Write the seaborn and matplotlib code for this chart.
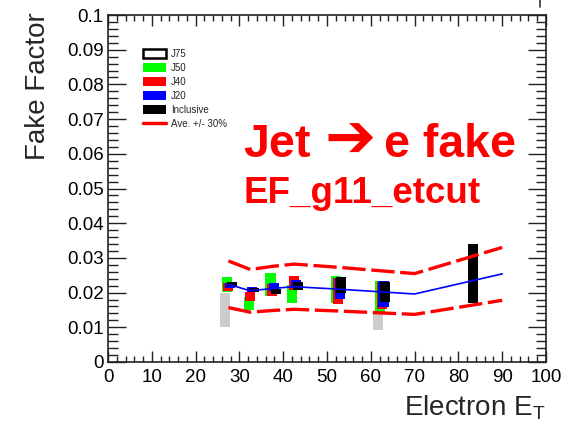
import numpy as np
import pandas as pd
import matplotlib
matplotlib.use("Agg")
import matplotlib.pyplot as plt
import seaborn as sns
from matplotlib.patches import Patch
from matplotlib.lines import Line2D
from matplotlib.ticker import MultipleLocator, FixedLocator, FixedFormatter

nan = np.nan

# Electron E_T bin centres and fake-factor bands (low / high) per trigger stream
bin_et = [27.5, 32.5, 37.5, 42.5, 52.5, 62.5, 82.5]
j75_lo = [0.0102, nan, nan, nan, nan, 0.0091, nan]
j75_hi = [0.0198, nan, nan, nan, nan, 0.0140, nan]
j50_lo = [0.0203, 0.0150, 0.0190, 0.0171, 0.0169, 0.0142, nan]
j50_hi = [0.0246, 0.0188, 0.0257, 0.0222, 0.0248, 0.0234, nan]
j40_lo = [0.0205, 0.0177, 0.0190, 0.0207, 0.0167, 0.0152, nan]
j40_hi = [0.0229, 0.0203, 0.0225, 0.0248, 0.0241, 0.0231, nan]
j20_lo = [0.0214, 0.0203, 0.0205, 0.0212, 0.0181, 0.0159, nan]
j20_hi = [0.0228, 0.0217, 0.0227, 0.0236, 0.0241, 0.0234, nan]
incl_lo = [0.0219, 0.0203, 0.0195, 0.0207, 0.0200, 0.0173, 0.0169]
incl_hi = [0.0231, 0.0214, 0.0210, 0.0231, 0.0244, 0.0231, 0.0340]

# Average fake factor used for the +/- 30% band
ave_et = [27.5, 32.5, 37.5, 42.5, 52.5, 62.5, 70.0, 90.0]
ave_ff = [0.0224, 0.0205, 0.0212, 0.0217, 0.0210, 0.0202, 0.0196, 0.0254]

x_ticks = [0, 10, 20, 30, 40, 50, 60, 70, 80, 90, 100]
x_tick_labels = ["0", "10", "20", "30", "40", "50", "60", "70", "80", "90", "100"]
y_ticks = [0, 0.01, 0.02, 0.03, 0.04, 0.05, 0.06, 0.07, 0.08, 0.09, 0.1]
y_tick_labels = ["0", "0.01", "0.02", "0.03", "0.04", "0.05", "0.06", "0.07",
                 "0.08", "0.09", "0.1"]

sns.set_theme(style="ticks")
plt.rcParams["font.family"] = ["Liberation Sans", "DejaVu Sans"]
plt.rcParams["mathtext.fontset"] = "custom"
plt.rcParams["mathtext.rm"] = "Liberation Sans"
plt.rcParams["mathtext.it"] = "Liberation Sans"

fig = plt.figure(figsize=(5.64, 4.22), dpi=100)
ax = fig.add_axes([108 / 564, 1 - 362 / 422, 438 / 564, 347 / 422])

streams = [
    ("J75", j75_lo, j75_hi, "#cccccc", -0.8),
    ("J50", j50_lo, j50_hi, "#00ff00", -0.4),
    ("J40", j40_lo, j40_hi, "#ff0000", 0.0),
    ("J20", j20_lo, j20_hi, "#0000ff", 0.4),
    ("Inclusive", incl_lo, incl_hi, "#000000", 0.8),
]
box_w = 2.3
for name, lo, hi, col, shift in streams:
    lo = np.asarray(lo)
    hi = np.asarray(hi)
    ok = ~np.isnan(lo)
    xs = np.asarray(bin_et)[ok] + shift
    ax.bar(xs, hi[ok] - lo[ok], bottom=lo[ok], width=box_w, color=col,
           edgecolor="none", zorder=2)

band = pd.DataFrame({
    "et": ave_et,
    "ave": ave_ff,
    "up": np.asarray(ave_ff) * 1.3,
    "down": np.asarray(ave_ff) * 0.7,
})
sns.lineplot(data=band, x="et", y="ave", color="#0000ff", lw=1.2, ax=ax,
             zorder=3)
for col in ["up", "down"]:
    sns.lineplot(data=band, x="et", y=col, color="#ff0000", lw=2.4, ax=ax,
                 linestyle=(0, (7, 1.7)), zorder=3)

ax.set_xlim(0, 100)
ax.set_ylim(0, 0.1)
ax.xaxis.set_major_locator(FixedLocator(x_ticks))
ax.xaxis.set_major_formatter(FixedFormatter(x_tick_labels))
ax.yaxis.set_major_locator(FixedLocator(y_ticks))
ax.yaxis.set_major_formatter(FixedFormatter(y_tick_labels))
ax.xaxis.set_minor_locator(MultipleLocator(2))
ax.yaxis.set_minor_locator(MultipleLocator(0.002))
ax.tick_params(axis="both", which="both", direction="in", colors="#222222",
               labelcolor="black", labelsize=13.5, top=True, right=True,
               width=1.0)
ax.tick_params(axis="x", which="major", length=8, pad=5)
ax.tick_params(axis="x", which="minor", length=4)
ax.tick_params(axis="y", which="major", length=13, pad=3)
ax.tick_params(axis="y", which="minor", length=7)
for s in ax.spines.values():
    s.set_color("#222222")
    s.set_linewidth(1.2)
ax.grid(False)

ax.set_xlabel("")
ax.set_ylabel("")
fig.text(546 / 564, 1 - 416 / 422, "Electron E$_{\\mathrm{T}}$", ha="right",
         va="baseline", fontsize=20)
fig.text(38 / 564, 1 - 12 / 422, "Fake Factor", rotation=90, ha="center",
         va="top", fontsize=20)

# Red annotation: "Jet", a heavy arrow, then "e fake"
red = "#ff0000"
fig.text(243 / 564, 1 - 157 / 422, "Jet", color=red, fontsize=33.5,
         fontweight="bold", ha="left", va="baseline")
fig.text(350 / 564, 1 - 158 / 422, "\u2794", color=red, fontsize=44,
         family=["DejaVu Sans"], ha="center", va="baseline")
fig.text(384 / 564, 1 - 157 / 422, "e fake", color=red, fontsize=33.5,
         fontweight="bold", ha="left", va="baseline")
fig.text(243 / 564, 1 - 203 / 422, "EF_g11_etcut", color=red,
         fontsize=26.5, fontweight="bold", ha="left", va="baseline")

handles = [
    Patch(facecolor="white", edgecolor="black", linewidth=1.8, label="J75"),
    Patch(facecolor="#00ff00", edgecolor="none", label="J50"),
    Patch(facecolor="#ff0000", edgecolor="none", label="J40"),
    Patch(facecolor="#0000ff", edgecolor="none", label="J20"),
    Patch(facecolor="#000000", edgecolor="none", label="Inclusive"),
    Line2D([], [], color="#ff0000", lw=2.5, label="Ave. +/- 30%"),
]
ax.legend(handles=handles, loc="upper left", bbox_to_anchor=(0.08, 0.903),
          frameon=False, fontsize=7, handlelength=2.4, handleheight=1.05,
          labelspacing=0.42, handletextpad=0.5, borderpad=0, borderaxespad=0)

fig.add_artist(Line2D([540 / 564, 540 / 564], [1.0, 1 - 7 / 422],
                      color="#333333", lw=1.2))

fig.savefig("out.png", dpi=100)
